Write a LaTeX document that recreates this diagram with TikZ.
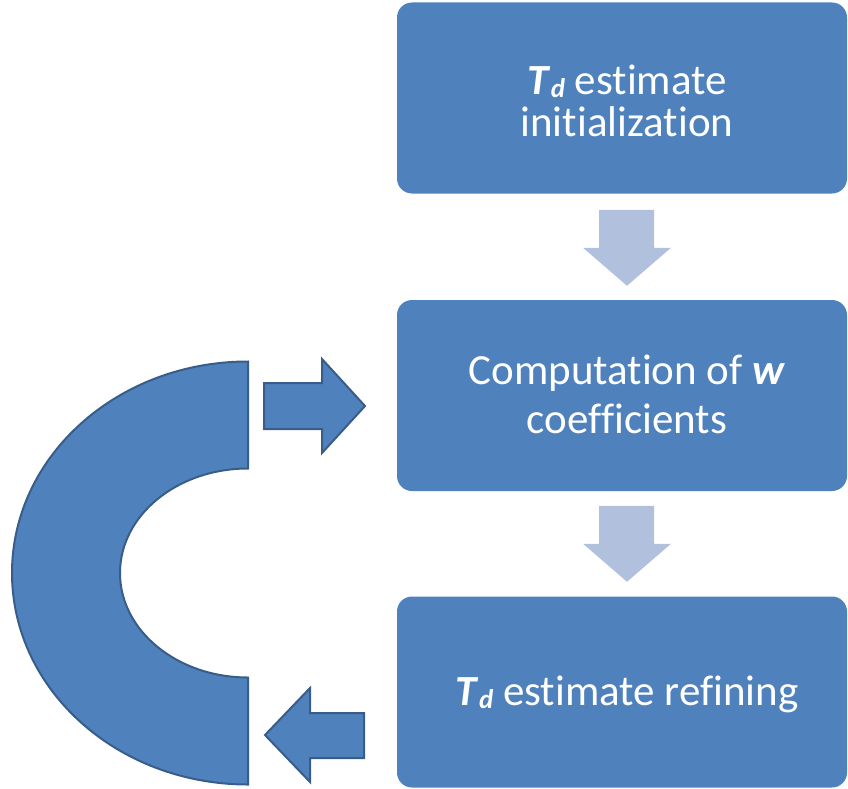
\documentclass[tikz,border=0pt]{standalone}
\usepackage{fontspec}
\setmainfont[Ligatures=NoCommon]{Carlito}
\usetikzlibrary{calc}
\definecolor{boxblue}{HTML}{4F81BD}
\definecolor{edgeblue}{HTML}{385D8A}
\definecolor{paleblue}{HTML}{B1C1DD}
\newcommand{\Td}{\textbf{\textit{T}}\kern0.5pt\raisebox{-3pt}{\fontsize{27}{27}\selectfont\textbf{\textit{d}}}}
\begin{document}
\begin{tikzpicture}[x=1pt,y=-1pt,
  stepbox/.style={fill=boxblue, draw=none, rounded corners=15pt,
    minimum width=450pt, minimum height=191pt, inner sep=0pt},
  lbl/.style={text=white, font=\fontsize{43}{50}\selectfont, anchor=base, inner sep=0pt},
  blockshape/.style={fill=boxblue, draw=edgeblue, line width=2pt, line join=miter},
  flow/.style={fill=paleblue, draw=none}]
\useasboundingbox (0,0) rectangle (848,789);

% process steps
\node[stepbox] (init) at (622,98) {};
\node[stepbox] (comp) at (622,395.5) {};
\node[stepbox] (refine) at (622,692) {};

\node[lbl] (initA) at (627,95) {\Td{} estimate};
\node[lbl] (initB) at (627,136) {initialization};
\node[lbl] (compA) at (627,384) {Computation of \textbf{\textit{w}}};
\node[lbl] (compB) at (627,433) {coefficients};
\node[lbl] (refA) at (627,705) {\Td{} estimate refining};

% downward flow arrows between the steps
\coordinate (d1) at ($(init.south)!0.5!(comp.north)+(5,1)$);
\coordinate (d2) at ($(comp.south)!0.5!(refine.north)+(5,0)$);
\foreach \c in {d1,d2}
  \draw[flow] ($(\c)+(-28,-38)$) -- ++(55,0) -- ++(0,38) -- ++(17,0)
    -- ++(-44,38) -- ++(-44,-38) -- ++(16,0) -- cycle;

% feedback loop: half ring
\draw[blockshape] (248,361.5)
  arc[start angle=90, end angle=270, x radius=236pt, y radius=211.5pt]
  -- (248,677.5)
  arc[start angle=270, end angle=90, x radius=128pt, y radius=104.5pt]
  -- cycle;

% arrow into the computation step
\draw[blockshape] (264,383) -- (322,383) -- (322,359) -- (365,406)
  -- (322,453) -- (322,429) -- (264,429) -- cycle;

% arrow out of the refining step
\draw[blockshape] (364,713) -- (310,713) -- (310,688) -- (265,735)
  -- (310,782) -- (310,758) -- (364,758) -- cycle;
\end{tikzpicture}
\end{document}
